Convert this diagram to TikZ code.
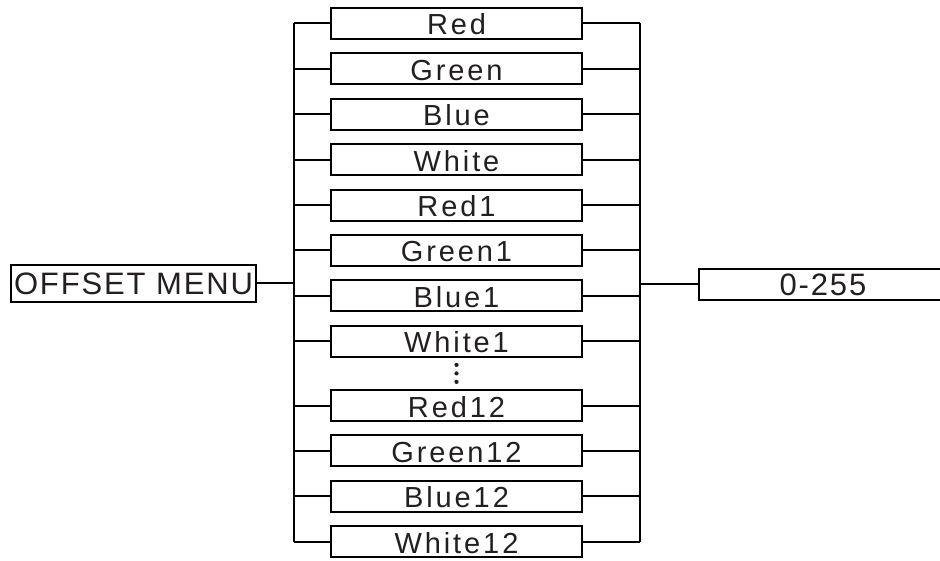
\documentclass[tikz,border=0pt]{standalone}
\usepackage{fontspec}
\setmainfont{Liberation Sans}
\newfontfamily\itemfont[LetterSpace=10]{Liberation Sans}
\newfontfamily\headfont[LetterSpace=6]{Liberation Sans}
\usetikzlibrary{calc,positioning}
\definecolor{ink}{HTML}{231F20}
\tikzset{wire/.style={line width=2pt},
  item/.style={draw, line width=2pt, minimum width=251pt, minimum height=31pt, inner sep=0pt, outer sep=0pt,
    text=ink, text height=23pt, text depth=0pt, font=\itemfont\fontsize{29}{30}\selectfont},
  head/.style={draw, line width=2pt, minimum height=31pt, inner sep=0pt, outer sep=0pt,
    text=ink, text height=22pt, text depth=0pt, font=\headfont\fontsize{31}{32}\selectfont}}

\begin{document}
\begin{tikzpicture}[x=1pt, y=-1pt, node distance=14.4pt]
  \useasboundingbox (0,0) rectangle (940,561);
  % main entry
  \node[head, minimum width=245pt, minimum height=37pt] (menu) at (133.5,283.5) {OFFSET MENU};
  % channel list
  \node[item] (red) at (456.5,23.5) {Red};
  \node[item, below=of red]    (green)  {Green};
  \node[item, below=of green]  (blue)   {Blue};
  \node[item, below=of blue]   (white)  {White};
  \node[item, below=of white]  (red1)   {Red1};
  \node[item, below=of red1]   (green1) {Green1};
  \node[item, below=of green1] (blue1)  {Blue1};
  \node[item, below=of blue1]  (white1) {White1};
  \node[item, below=33.2pt of white1] (red12) {Red12};
  \node[item, below=of red12]   (green12) {Green12};
  \node[item, below=of green12] (blue12)  {Blue12};
  \node[item, below=of blue12]  (white12) {White12};
  % value range
  \node[head, minimum width=249pt] (range) at (823,284.5) {0-255};
  % dots between White1 and Red12
  \coordinate (gap) at ($(white1.south)!0.5!(red12.north)$);
  \fill[ink] ($(gap)+(0,-8.5)$) circle (2.1pt) (gap) circle (2.1pt) ($(gap)+(0,8.5)$) circle (2.1pt);
  % left bus
  \draw[wire] (red.west) -- ++(-37.5,0) coordinate (ltop);
  \draw[wire] (white12.west) -- ++(-37.5,0) coordinate (lbot);
  \draw[wire] (ltop) -- (lbot);
  \foreach \n in {green,blue,white,red1,green1,blue1,white1,red12,green12,blue12}
    \draw[wire] (\n.west) -- (\n.west -| ltop);
  \draw[wire] (menu.east) -- (menu.east -| ltop);
  % right bus
  \draw[wire] (red.east) -- ++(58,0) coordinate (rtop);
  \draw[wire] (white12.east) -- ++(58,0) coordinate (rbot);
  \draw[wire] (rtop) -- (rbot);
  \foreach \n in {green,blue,white,red1,green1,blue1,white1,red12,green12,blue12}
    \draw[wire] (\n.east) -- (\n.east -| rtop);
  \draw[wire] (range.west) -- (range.west -| rtop);
\end{tikzpicture}
\end{document}
